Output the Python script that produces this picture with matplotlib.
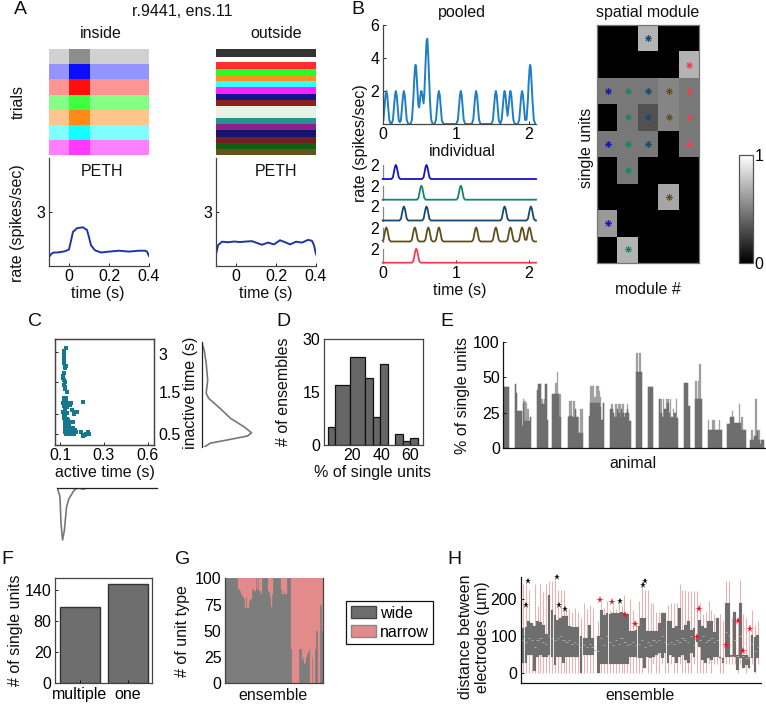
import numpy as np
import matplotlib
matplotlib.use('Agg')
import matplotlib.pyplot as plt
from matplotlib.patches import Patch

plt.rcParams['font.family'] = ['Liberation Sans', 'DejaVu Sans']
plt.rcParams['font.size'] = 11.5
plt.rcParams['axes.linewidth'] = 0.9
plt.rcParams['axes.edgecolor'] = '#444444'
plt.rcParams['xtick.direction'] = 'in'
plt.rcParams['ytick.direction'] = 'in'
plt.rcParams['xtick.major.size'] = 2
plt.rcParams['ytick.major.size'] = 2
plt.rcParams['xtick.major.width'] = 0.6
plt.rcParams['ytick.major.width'] = 0.6
plt.rcParams['xtick.major.pad'] = 2.5
plt.rcParams['ytick.major.pad'] = 2.5

# ---------- data ----------
# A: raster bands
in_colors = ['#000000', '#0000ff', '#ff0000', '#00ff00', '#ff8000', '#00ffff', '#ff00ff']
in_trials = [15, 15, 16, 15, 15, 15, 15]
in_density = [0.18, 0.42, 0.42, 0.48, 0.45, 0.5, 0.5]
in_active = [0.32, 0.92, 0.9, 0.52, 0.85, 0.85, 0.55]
out_colors = ['#000000', '#ffffff', '#ff0000', '#00ff00', '#ff8000', '#00ffff', '#ff00ff', '#000080',
              '#800000', '#008000', '#008080', '#800080', '#000060', '#600000', '#005000', '#504000']
out_trials = [8, 5, 7, 6, 6.5, 6, 6.5, 6, 6.5, 12, 6, 6, 6.5, 6, 6.5, 6]
out_density = [0.8, 0, 0.82, 0.85, 0.88, 0.8, 0.88, 0.92, 0.88, 0.1, 0.85, 0.88, 0.92, 0.88, 0.92, 0.9]
active_window = [0.0, 0.105]
raster_range = [-0.1, 0.4]

# A: PETH
peth_t_in = [-0.1, -0.09, -0.08, -0.05, -0.02, 0, 0.01, 0.02, 0.04, 0.07, 0.09, 0.1, 0.11, 0.13, 0.16, 0.2, 0.25, 0.3, 0.35, 0.38, 0.39, 0.4]
peth_in = [0.5, 0.65, 0.74, 0.76, 0.82, 0.92, 1.4, 1.9, 2.1, 2.15, 2.0, 1.6, 1.15, 0.87, 0.75, 0.8, 0.85, 0.8, 0.85, 0.85, 0.8, 0.55]
peth_t_out = [-0.1, -0.09, -0.07, -0.04, -0.01, 0.02, 0.05, 0.08, 0.1, 0.13, 0.16, 0.19, 0.22, 0.25, 0.27, 0.3, 0.33, 0.36, 0.38, 0.39, 0.4]
peth_out = [0.65, 1.15, 1.35, 1.32, 1.36, 1.33, 1.36, 1.38, 1.3, 1.18, 1.3, 1.2, 1.43, 1.3, 1.2, 1.35, 1.3, 1.45, 1.4, 1.15, 0.65]

# B: spike times of the five individual units and the kernel that makes their rates
unit_colors = ['#1414c8', '#17846c', '#164a6e', '#5f5020', '#f04050']
unit_spikes = [[0.18, 0.60], [0.53, 1.07], [0.29, 0.60, 1.67, 2.03],
               [0.05, 0.44, 0.625, 0.77, 1.28, 1.55, 1.75, 1.91, 2.01], [0.46]]
kernel_t = [-0.06, -0.04, -0.025, -0.012, 0, 0.012, 0.025, 0.04, 0.06]
kernel_v = [0, 0.25, 1.0, 1.75, 2, 1.75, 1.0, 0.25, 0]
pooled_color = '#1f7fc4'

# B: spatial module
module = [[0, 0, 0.7, 0, 0],
          [0, 0, 0, 0, 0.7],
          [0.47, 0.47, 0.47, 0.52, 0.47],
          [0, 0.47, 0.32, 0.52, 0.47],
          [0.47, 0.47, 0.47, 0, 0.47],
          [0, 0.47, 0, 0, 0],
          [0, 0, 0, 0.65, 0],
          [0.6, 0, 0, 0, 0],
          [0, 0.7, 0, 0, 0]]

# C
act_t = [.126, .120, .118, .118, .117, .120, .120, .121, .129, .124, .120, .115, .114, .117, .121, .120, .124, .121,
         .133, .120, .127, .117, .126, .130, .115, .152, .206, .118, .133, .121, .145, .155, .170, .176, .164, .115,
         .118, .124, .133, .118, .130, .124, .136, .127, .133, .145, .121, .142, .130, .158, .124, .136, .148, .161,
         .167, .121, .130, .139, .155, .127, .136, .145, .158, .173, .194, .218, .227, .230, .206, .212, .124, .142,
         .152, .164, .133]
inact_t = [2.64, 2.58, 2.51, 2.46, 2.39, 2.33, 2.27, 2.21, 2.21, 2.16, 2.02, 1.94, 1.89, 1.85, 1.81, 1.73, 1.68, 1.63,
           1.54, 1.41, 1.39, 1.33, 1.31, 1.27, 1.27, 1.28, 1.31, 1.21, 1.18, 1.13, 1.23, 1.10, 1.06, 1.04, .99, 1.06,
           .99, .98, 1.02, .91, .88, .83, .85, .78, .74, .79, .73, .71, .68, .79, .63, .64, .66, .64, .60, .56, .58,
           .56, .58, .51, .50, .49, .51, .56, .54, .51, .56, .49, .45, .47, .61, .61, .54, .51, .54]
marg_y_t = [2.79, 2.6, 2.27, 1.85, 1.52, 1.39, 1.14, .89, .68, .53, .45, .35, .27, .17]
marg_y_d = [0, .05, .09, .12, .09, .14, .37, .58, .85, 1, .92, .51, .17, .05]
marg_x_t = [.088, .1, .105, .112, .12, .13, .141, .164, .183, .206, .224, .539]
marg_x_d = [0, .17, .69, 1, .82, .37, .21, .05, 0, .03, 0, 0]

# D
hist_left = [3.2, 8.3, 18.6, 28.9, 34.0, 39.2, 49.4, 54.6, 59.7]
hist_width = [5.13, 10.26, 10.26, 5.13, 5.13, 5.13, 5.13, 5.13, 5.13]
hist_count = [5, 17, 25, 19, 8, 23, 3, 1, 2]

# E: per animal groups of ensembles
e_groups = [
    (0, [43, 43, 43, 43], [43, 43, 43, 43]),
    (8, [45, 39, 26, 26, 26, 16, 32, 19, 19, 19, 19, 22], [45, 39, 26, 26, 26, 16, 35, 33, 32, 28, 19, 22]),
    (24, [41, 45, 45, 31, 31, 31, 45, 20], [41, 45, 45, 35, 31, 35, 45, 20]),
    (35, [38, 38, 38, 38, 38, 22], [38, 38, 46, 54, 38, 38]),
    (46, [22, 23, 23, 22, 22, 28, 22, 11, 11, 11, 11], [22, 33, 33, 22, 33, 28, 22, 22, 11, 28, 28]),
    (61, [23, 32, 32, 32, 32, 32, 32, 32, 29, 20, 32], [23, 44, 44, 44, 36, 44, 44, 40, 36, 20, 32]),
    (76, [28, 28, 25, 22, 22, 28, 25, 22, 28, 25, 22, 25, 28, 25, 19], [28, 31, 25, 22, 31, 28, 31, 31, 28, 31, 22, 25, 31, 25, 19]),
    (95, [54, 54, 54, 54], [67, 54, 67, 54]),
    (103, [43, 43, 43, 43], [43, 43, 43, 43]),
    (111, [35, 25, 22, 22, 28, 28, 32, 25, 21, 22, 21, 25, 21, 21], [35, 35, 22, 35, 28, 35, 35, 25, 35, 22, 28, 25, 35, 21]),
    (129, [46, 46, 46, 30], [46, 46, 46, 30]),
    (137, [35, 35, 35, 35, 35], [47, 35, 47, 59, 35]),
    (146, [13, 13, 13, 13, 13, 13, 13, 13, 13, 13], [20, 13, 13, 20, 20, 13, 13, 13, 20, 13]),
    (160, [17, 17, 22, 22, 22, 18, 18, 18, 18, 18, 13, 13, 13], [17, 17, 22, 26, 22, 18, 18, 18, 31, 18, 22, 13, 13]),
    (176, [6, 6, 6, 9, 9, 12, 6, 3, 6, 6], [6, 13, 6, 9, 35, 13, 13, 3, 6, 6]),
]

# F
f_labels = ['multiple', 'one']
f_values = [114.5, 149]

# G
wide_pct = [100] * 14 + [90, 90, 88, 85, 83, 82, 80, 75, 72, 82, 72, 72, 78, 80, 80, 90, 90, 88, 88, 100,
                         90, 100, 100, 88, 88, 85, 100, 100, 100, 100, 100, 100, 88, 87, 82, 73, 80, 85, 100,
                         100, 100, 100, 100, 100, 100, 100, 90, 85, 85, 88, 88, 85, 85, 100, 100, 100, 100,
                         33, 0, 0, 0, 0, 0, 0, 0, 0, 33, 33, 33, 22, 25, 18, 20, 25, 28, 30, 33, 0, 0, 0, 25,
                         0, 0, 33, 50, 50, 0, 0, 75, 75, 50]
narrow_pct = [100 - v for v in wide_pct]

# H
h_q3 = [122, 125, 140, 135, 126, 140, 138, 130, 105, 211, 170, 158, 144, 150, 155, 155, 126, 124, 124, 124, 100,
        95, 95, 130, 95, 62, 100, 171, 158, 162, 160, 162, 162, 162, 165, 162, 160, 113, 113, 117, 128,
        150, 150, 114, 114, 114, 114, 135, 162, 162, 140, 140, 122, 126, 176, 117, 130, 140, 117, 122, 100,
        144, 126, 122, 140, 140, 110, 149, 45, 40, 190, 190, 50, 164, 50, 190, 50, 50, 45, 104, 99, 104]
h_q1 = [27, 27, 50, 50, 5, 45, 50, 45, 45, 48, 45, 22, 45, 45, 27, 45, 45, 43, 43, 43, 2, 50, 50, 50, 50, 62, 2,
        25, 25, 25, 25, 25, 25, 25, 25, 25, 25, 43, 43, 43, 40,
        40, 14, 45, 40, 45, 50, 54, 40, 54, 27, 50, 45, 27, 45, 50, 36, 27, 54, 45, 85, 72, 36, 27, 40, 36,
        45, 45, 40, 27, 45, 45, 45, 45, 9, 40, 14, 22, 14, 40, 4, 40]
h_med = [90, 85, 95, 90, 70, 90, 95, 85, 80, 100, 95, 90, 95, 100, 90, 85, 90, 80, 85, 80, 70, 75, 70, 80, 72, 62,
         60, 95, 75, 100, 85, 75, 90, 80, 95, 85, 75, 80, 85, 75, 80,
         90, 70, 85, 75, 90, 85, 90, 100, 85, 80, 85, 80, 90, 85, 95, 90, 85, 100, 75, 95, 90, 100, 85, 90, 95,
         85, 90, 42, 35, 110, 100, 47, 90, 47, 100, 47, 40, 40, 80, 60, 70]
h_whi = [240, 240, 225, 130, 240, 180, 240, 220, 240, 248, 248, 250, 225, 225, 225, 172, 172, 165, 175, 165, 150,
         190, 172, 185, 175, 62, 140, 190, 175, 195, 170, 185, 172, 200, 185, 210, 165, 200, 170, 140, 195,
         240, 225, 225, 190, 190, 165, 165, 165, 162, 185, 190, 190, 190, 240, 225, 225, 222, 222, 222, 222, 190,
         160, 165, 195, 170, 160, 149, 160, 140, 248, 248, 150, 164, 150, 250, 160, 150, 130, 170, 130, 140]
h_wlo = [0] * 25 + [62] + [0] * 15 + [0, 14, 0, 0, 25, 0, 0, 25, 0, 0, 25, 0, 0, 25, 0, 0, 0, 0, 25, 0,
                                       0, 0, 0, 25, 0, 25, 25, 0, 0, 25, 25, 25, 25, 0, 25, 14, 0, 14, 25, 0, 25]
h_star_black_x = [1.03, 1.6, 11.7, 12.5, 14.5, 33.3, 41.3, 42.1]
h_star_black_y = [182.8, 247.6, 259.4, 183, 172.9, 193.6, 236.8, 249.5]
h_star_red_x = [26.6, 30.6, 35.3, 38.6, 60.1, 60.8, 70.2, 74.3, 75.8, 78.4]
h_star_red_y = [198, 191.8, 156.7, 132.4, 99, 173, 75.6, 141, 60, 118.9]

GRAY = '#6e6e6e'
PINK = '#e38a8a'

# ---------- figure ----------
W, H = 766, 706
fig = plt.figure(figsize=(W / 100, H / 100), dpi=100)


def axp(l, t, r, b):
    return fig.add_axes([l / W, 1 - b / H, (r - l) / W, (b - t) / H])


def T(x, y, s, size=11.5, rot=0):
    fig.text(x / W, 1 - y / H, s, ha='center', va='center', fontsize=size, rotation=rot, color='#111111')


def hide(ax, *names):
    for n in names:
        ax.spines[n].set_visible(False)


def raster(ax, colors, trials, density, active=None):
    ax.set_xlim(*raster_range)
    ax.set_ylim(sum(trials), 0)
    top = 0
    for i, c in enumerate(colors):
        ax.barh(top, raster_range[1] - raster_range[0], height=trials[i], left=raster_range[0], align='edge',
                color=c, alpha=density[i], lw=0)
        if active is not None:
            ax.barh(top, active_window[1] - active_window[0], height=trials[i], left=active_window[0], align='edge',
                    color=c, alpha=active[i], lw=0)
        top += trials[i]
    ax.axis('off')


raster(axp(49, 49, 149, 155), in_colors, in_trials, in_density, in_active)
raster(axp(216, 49, 316, 155), out_colors, out_trials, out_density)

for (l, r), t, v in [((49, 149), peth_t_in, peth_in), ((216, 316), peth_t_out, peth_out)]:
    ax = axp(l, 158, r, 266)
    ax.plot(t, v, color='#1f35a8', lw=1.4)
    ax.set_xlim(-0.1, 0.4)
    ax.set_ylim(0, 6)
    ax.set_xticks([0, 0.2, 0.4], ['0', '0.2', '0.4'])
    ax.set_yticks([3])
    hide(ax, 'top', 'right')

# B
t_grid = np.linspace(0, 2.1, 841)
unit_rates = []
for spikes in unit_spikes:
    r = np.zeros_like(t_grid)
    for s in spikes:
        r = r + np.interp(t_grid - s, kernel_t, kernel_v, left=0, right=0)
    unit_rates.append(r)
pooled = np.sum(unit_rates, axis=0)

ax = axp(382.7, 25, 536, 124)
ax.plot(t_grid, pooled, color=pooled_color, lw=1.4)
ax.set_xlim(0, 2.1)
ax.set_ylim(0, 6)
ax.set_xticks([0, 1, 2])
ax.set_yticks([2, 4, 6])
hide(ax, 'top', 'right')

for i, base in enumerate([179, 199.7, 220.5, 241.5, 262.7]):
    ax = axp(382.7, base - 14, 536, base)
    ax.plot(t_grid, unit_rates[i], color=unit_colors[i], lw=1.3, clip_on=False, zorder=5)
    ax.set_xlim(0, 2.1)
    ax.set_ylim(0, 2)
    ax.set_yticks([2])
    ax.tick_params(axis='y', length=0)
    hide(ax, 'top', 'right', 'bottom')
    ax.spines['left'].set_color('#888888')
    if i == 4:
        ax.set_xticks([0, 1, 2])
    else:
        ax.set_xticks([])

ax = axp(597.3, 25, 699.3, 262.7)
im = ax.imshow(module, cmap='gray', vmin=0, vmax=1, aspect='auto', interpolation='nearest')
for r, row in enumerate(module):
    for c, v in enumerate(row):
        if v > 0:
            ax.plot(c, r, marker=(8, 2, 0), ms=5, mew=0.6, color=unit_colors[c])
ax.set_xticks([])
ax.set_yticks([])
for s in ax.spines.values():
    s.set_color('#777777')

cax = axp(739, 155, 753, 262.7)
cb = fig.colorbar(im, cax=cax, ticks=[0, 1])
cb.ax.tick_params(length=0, pad=1)
cb.outline.set_edgecolor('#555555')

# C
ax = axp(55, 339, 154.3, 445)
ax.scatter(act_t, inact_t, s=6, marker='s', color='#15788f', lw=0)
ax.set_xlim(0.077, 0.529)
ax.set_ylim(0.225, 2.875)
ax.set_xticks([0.1, 0.3, 0.5], ['0.1', '0.3', '0.6'])
ax.set_yticks([0.5, 1.0, 1.8, 2.55], [])
ax2 = ax.twinx()
ax2.set_ylim(ax.get_ylim())
ax2.set_yticks([0.5, 1.55, 2.5], ['0.5', '1.5', '3'])
ax2.tick_params(axis='y', length=0, pad=3)

ax = axp(201.7, 342, 255, 447)
ax.plot(marg_y_d, marg_y_t, color='#777777', lw=1.2)
ax.set_xlim(0, 1.07)
ax.set_ylim(0.175, 2.8)
ax.set_xticks([])
ax.set_yticks([])
hide(ax, 'top', 'right', 'bottom')
ax.spines['left'].set_color('#222222')

ax = axp(57.3, 487.7, 156.7, 541)
ax.plot(marg_x_t, marg_x_d, color='#777777', lw=1.2)
ax.set_xlim(0.088, 0.54)
ax.set_ylim(1.02, 0)
ax.set_xticks([])
ax.set_yticks([])
hide(ax, 'left', 'right', 'bottom')
ax.spines['top'].set_color('#222222')

# D
ax = axp(324, 339, 422.7, 445)
ax.bar(hist_left, hist_count, width=hist_width, align='edge', color='#666666', edgecolor='#111111', lw=0.9)
ax.set_xlim(0.8, 68.3)
ax.set_ylim(0, 30)
ax.set_xticks([20, 40, 60])
ax.set_yticks([0, 15, 30])
ax.tick_params(length=0)

# E
ax = axp(503.3, 341.7, 766, 448.3)
for start, dark, light in e_groups:
    x = np.arange(start, start + len(dark))
    ax.bar(x, light, width=1, align='edge', color='#a0a0a0', edgecolor='#a0a0a0', lw=0.2)
    ax.bar(x, dark, width=1, align='edge', color=GRAY, edgecolor=GRAY, lw=0.3)
ax.set_xlim(0, 187.6)
ax.set_ylim(0, 75)
ax.set_xticks([])
ax.set_yticks([0, 25, 50, 75], ['0', '25', '50', '100'])
hide(ax, 'top', 'right')
ax.spines['left'].set_color('#111111')
ax.spines['bottom'].set_color('#111111')

# F
ax = axp(55, 577.7, 152.3, 683.3)
ax.bar([1, 2], f_values, width=0.82, color=GRAY, edgecolor='#333333', lw=1)
ax.set_xlim(0.48, 2.51)
ax.set_ylim(0, 159)
ax.set_xticks([1, 2], f_labels)
ax.set_yticks([0, 46.67, 93.33, 140], ['0', '20', '80', '140'])

# G
ax = axp(225, 578.3, 322.7, 683.3)
xg = np.arange(len(wide_pct))
bw = ax.bar(xg, wide_pct, width=1, color='#7d7d7d', edgecolor='#7d7d7d', lw=0.2)
bn = ax.bar(xg, narrow_pct, bottom=wide_pct, width=1, color=PINK, edgecolor=PINK, lw=0.2)
ax.set_xlim(-0.5, len(wide_pct) - 0.5)
ax.set_ylim(0, 100)
ax.set_xticks([])
ax.set_yticks([0, 25, 50, 75, 100])
ax.tick_params(length=0)
hide(ax, 'top')
leg = fig.legend(handles=[Patch(facecolor=GRAY, edgecolor='#444444', label='wide'),
                          Patch(facecolor=PINK, edgecolor='#888888', label='narrow')],
                 loc='lower left', bbox_to_anchor=(346 / W, 1 - 644.3 / H), borderaxespad=0, fancybox=False,
                 edgecolor='#111111', framealpha=1, fontsize=11.5, handlelength=1.55, handleheight=0.85,
                 handletextpad=0.25, labelspacing=0.25, borderpad=0.3)
leg.get_frame().set_linewidth(0.9)

# H
ax = axp(520.7, 576.7, 760.7, 683.3)
xh = np.arange(len(h_q3))
ax.vlines(xh, h_wlo, h_whi, color='#edb0b0', lw=0.75, zorder=1)
ax.bar(xh, np.array(h_q3) - np.array(h_q1), bottom=h_q1, width=0.95, color=GRAY, edgecolor=GRAY, lw=0.1, zorder=2)
ax.hlines(h_med, xh - 0.38, xh + 0.38, color='#b4b4b4', lw=0.6, zorder=3)
ax.plot(h_star_black_x, h_star_black_y, ls='none', marker='*', ms=5, color='#111111', mew=0, zorder=4, clip_on=False)
ax.plot(h_star_red_x, h_star_red_y, ls='none', marker='*', ms=5.5, color='#f01020', mew=0, zorder=4, clip_on=False)
ax.set_xlim(-0.8, 82)
ax.set_ylim(-27, 260)
ax.set_xticks([])
ax.set_yticks([0, 100, 200])
hide(ax, 'top', 'right')
ax.spines['left'].set_color('#111111')
ax.spines['bottom'].set_color('#111111')

# ---------- free text ----------
T(20, 10, 'A', 14)
T(358, 10, 'B', 14)
T(35, 322, 'C', 14)
T(283, 322, 'D', 14)
T(447, 322, 'E', 14)
T(7, 559, 'F', 14)
T(183, 559, 'G', 14)
T(454, 559, 'H', 14)
T(182, 12, 'r.9441, ens.11')
T(101, 33, 'inside')
T(276, 33, 'outside')
T(18, 102, 'trials', rot=90)
T(18, 223, 'rate (spikes/sec)', rot=90)
T(102, 172, 'PETH')
T(276, 172, 'PETH')
T(98, 293, 'time (s)')
T(266, 293, 'time (s)')
T(462, 12, 'pooled')
T(462, 151, 'individual')
T(360, 143, 'rate (spikes/sec)', rot=90)
T(460, 290, 'time (s)')
T(648, 12, 'spatial module')
T(586, 148, 'single units', rot=90)
T(648, 290, 'module #')
T(190, 393, 'inactive time (s)', rot=90)
T(105, 473, 'active time (s)')
T(283, 392, '# of ensembles', rot=90)
T(373, 473, '% of single units')
T(463, 396, '% of single units', rot=90)
T(633, 464, 'animal')
T(16, 630, '# of single units', rot=90)
T(183, 631, '# of unit type', rot=90)
T(273, 695, 'ensemble')
T(465, 637, 'distance between', rot=90)
T(482, 637, 'electrodes (µm)', rot=90)
T(640, 695, 'ensemble')

fig.savefig('out.png', dpi=100)
